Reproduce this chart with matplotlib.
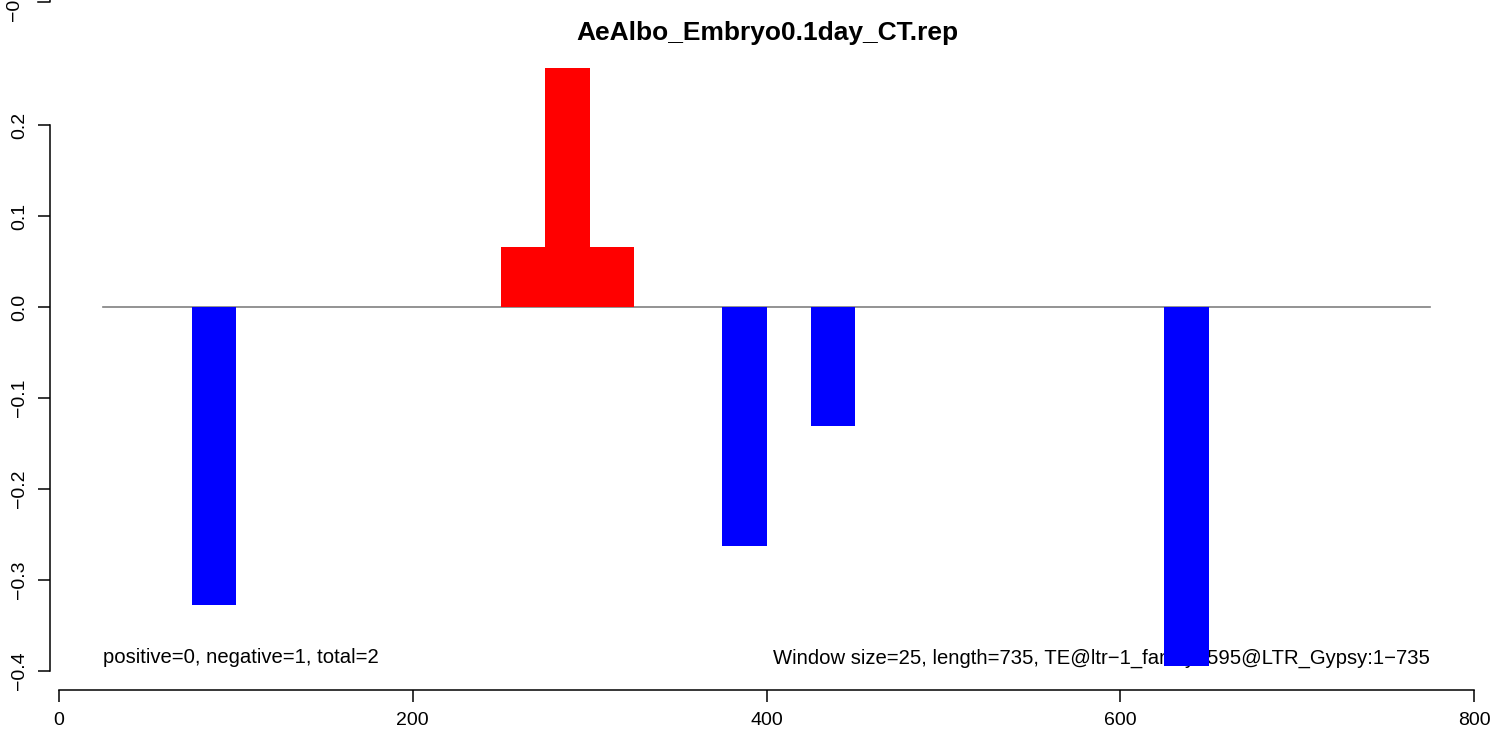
import matplotlib.pyplot as plt
from matplotlib.lines import Line2D

plt.rcParams['font.family'] = ['Liberation Sans', 'DejaVu Sans']

# window starts and scores
win_start = [75, 250, 275, 300, 375, 425, 625]
win_score = [-0.328, 0.066, 0.263, 0.066, -0.263, -0.131, -0.394]
win_size = 25
seq_start, seq_end = 25, 775
x_ticks = [0, 200, 400, 600, 800]
y_ticks = [-0.4, -0.3, -0.2, -0.1, 0.0, 0.1, 0.2]
title = 'AeAlbo_Embryo0.1day_CT.rep'
left_note = 'positive=0, negative=1, total=2'
right_note = 'Window size=25, length=735, TE@ltr\u22121_family\u2212595@LTR_Gypsy:1\u2212735'

W, H = 1504, 740
fig = plt.figure(figsize=(W / 100, H / 100), dpi=100)

# plot region in pixels
px_l, px_r, px_t, px_b = 50, 1480, 20, 690
ax = fig.add_axes([px_l / W, 1 - px_b / H, (px_r - px_l) / W, (px_b - px_t) / H])

# data <-> pixel mapping
x0_px, x_scale = 59, 1415 / 800
y0_px, y_scale = 307, 910
ax.set_xlim((px_l - x0_px) / x_scale, (px_r - x0_px) / x_scale)
ax.set_ylim((y0_px - px_b) / y_scale, (y0_px - px_t) / y_scale)

ax.plot([seq_start, seq_end], [0, 0], color='#808080', lw=1.2, zorder=1)
colors = ['#FF0000' if v > 0 else '#0000FF' for v in win_score]
ax.bar(win_start, win_score, width=win_size, align='edge', color=colors, zorder=3, linewidth=0)

ax.text(seq_start, -0.3857, left_note, fontsize=14.6, ha='left', va='center', zorder=2)
ax.text(seq_end, -0.3857, right_note, fontsize=14.6, ha='right', va='center', zorder=2)

for s in ['top', 'right']:
    ax.spines[s].set_visible(False)
ax.spines['bottom'].set_bounds(0, 800)
ax.spines['left'].set_bounds(-0.4, 0.2)
for s in ['bottom', 'left']:
    ax.spines[s].set_linewidth(1.1)
ax.set_xticks(x_ticks)
ax.set_xticklabels([str(t) for t in x_ticks])
ax.set_yticks(y_ticks)
ax.set_yticklabels([('\u2212' if t < 0 else '') + '%.1f' % abs(t) for t in y_ticks],
                   rotation=90, va='center')
ax.tick_params(axis='both', length=8.6, width=1.1, labelsize=14)
ax.tick_params(axis='x', pad=7)
ax.tick_params(axis='y', pad=7)

fig.text(767 / W, 1 - 33 / H, title, fontsize=19, fontweight='bold',
         ha='center', va='center')

# remnant of the panel above
fig.add_artist(Line2D([38 / W, 50 / W, 50 / W], [1 - 1.5 / H, 1 - 1.5 / H, 1.0],
                      transform=fig.transFigure, color='black', lw=1.1))
fig.text(15 / W, 1 - 1.5 / H, '\u22120.5', fontsize=14, rotation=90, ha='center', va='center')

fig.savefig('out.png', dpi=100)
